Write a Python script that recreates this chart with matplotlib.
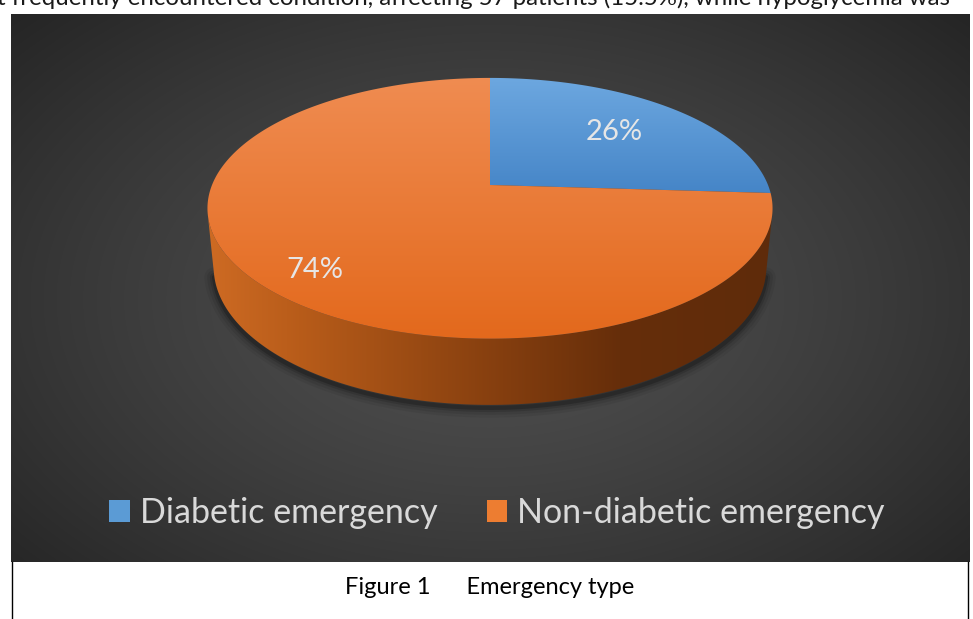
import numpy as np
import matplotlib
matplotlib.use('Agg')
import matplotlib.pyplot as plt
from matplotlib.patches import Polygon, Patch

# ---------------- data ----------------
categories = ['Diabetic emergency', 'Non-diabetic emergency']
values = [26, 74]
pct_labels = ['26%', '74%']
colors = ['#5B9BD5', '#ED7D31']
caption = 'Figure 1      Emergency type'
top_text = 't frequently encountered condition, affecting 57 patients (15.5%), while hypoglycemia was'

FONT = ['Lato', 'DejaVu Sans']
plt.rcParams['font.family'] = FONT

W, H = 973, 619
fig = plt.figure(figsize=(W / 100, H / 100), dpi=100)
fig.patch.set_facecolor('white')
ax = fig.add_axes([0, 0, 1, 1])
ax.set_xlim(0, W)
ax.set_ylim(H, 0)
ax.axis('off')

# ---------------- background panel (radial gradient) ----------------
px0, px1, py0, py1 = 11, 970, 14, 562
yy, xx = np.mgrid[py0:py1, px0:px1] + 0.5
r = np.sqrt(((xx - 490) / 520) ** 2 + ((yy - 300) / 330) ** 2)
t = np.clip(r / 1.26, 0, 1) ** 1.3
g = 0.315 - (0.315 - 0.145) * t
bg = np.dstack([g, g, g])
ax.imshow(bg, extent=(px0, px1, py1, py0), origin='upper', interpolation='bilinear', zorder=0, aspect='auto')

# ---------------- 3D pie projection ----------------
theta = np.radians(27)
s_, c_ = np.sin(theta), np.cos(theta)
Dd = 5.6 * c_
K = 278 * Dd
CX, CY = 490, 185
h = 0.239


def proj(phi, z=0.0, rad=1.0):
    X, Y = rad * np.cos(phi), rad * np.sin(phi)
    depth = Dd + Y * c_ - z * s_
    up = Y * s_ + z * c_
    return CX + K * X / depth, CY - K * up / depth


fracs = np.array(values, dtype=float) / np.sum(values)
cum = np.concatenate([[0], np.cumsum(fracs)])
# clockwise from 12 o'clock
starts = np.pi / 2 - 2 * np.pi * cum[:-1]
ends = np.pi / 2 - 2 * np.pi * cum[1:]

# visible side range (silhouette)
a_sil = np.arcsin(1 / (Dd * c_))
vis0, vis1 = np.pi + a_sil, 2 * np.pi - a_sil


def gradient_fill(poly_xy, cols_fn, z):
    xs, ys = poly_xy[:, 0], poly_xy[:, 1]
    x0, x1 = xs.min() - 2, xs.max() + 2
    y0, y1 = ys.min() - 2, ys.max() + 2
    nx, ny = int(x1 - x0) + 1, int(y1 - y0) + 1
    gx, gy = np.meshgrid(np.linspace(x0, x1, nx), np.linspace(y0, y1, ny))
    img = cols_fn(gx, gy)
    im = ax.imshow(img, extent=(x0, x1, y1, y0), origin='upper', interpolation='bilinear', zorder=z, aspect='auto')
    patch = Polygon(poly_xy, closed=True, facecolor='none', edgecolor='none', transform=ax.transData)
    ax.add_patch(patch)
    im.set_clip_path(patch)


def interp_cols(v, stops, cols):
    cols = np.array(cols)
    return np.dstack([np.interp(v, stops, cols[:, k]) for k in range(3)])


# shadow under the pie
phis_b = np.linspace(vis0, vis1, 200)
bx, by = proj(phis_b, -h)
for lw, al in [(14, 0.06), (10, 0.08), (6, 0.12), (3, 0.2)]:
    ax.plot(bx, by + 3, color='black', lw=lw, alpha=al, solid_capstyle='round', zorder=1)

# side walls
side_stops = [205, 300, 490, 620, 780]
side_cols = [(0.81, 0.42, 0.14), (0.72, 0.36, 0.10), (0.53, 0.25, 0.06), (0.40, 0.18, 0.04), (0.37, 0.17, 0.04)]
blue_side = [(0.30, 0.50, 0.72), (0.26, 0.44, 0.64), (0.20, 0.34, 0.50), (0.15, 0.26, 0.40), (0.14, 0.24, 0.38)]
for i in range(len(values)):
    lo, hi = ends[i], starts[i]
    for shift in (-2 * np.pi, 0, 2 * np.pi):
        a0 = max(lo + shift, vis0)
        a1 = min(hi + shift, vis1)
        if a1 > a0:
            ph = np.linspace(a0, a1, 200)
            tx, ty = proj(ph, 0)
            bx2, by2 = proj(ph[::-1], -h)
            poly = np.column_stack([np.concatenate([tx, bx2]), np.concatenate([ty, by2])])
            sc = blue_side if i == 0 else side_cols
            gradient_fill(poly, lambda gx, gy, sc=sc: interp_cols(gx, side_stops, sc), 2)

# top face wedges
top_grad = {
    0: ([75, 195], [(0.43, 0.66, 0.88), (0.27, 0.52, 0.78)]),
    1: ([75, 340], [(0.94, 0.55, 0.32), (0.89, 0.41, 0.11)]),
}
for i in range(len(values)):
    ph = np.linspace(starts[i], ends[i], 300)
    ax_, ay_ = proj(ph, 0)
    poly = np.column_stack([np.concatenate([[CX], ax_]), np.concatenate([[CY], ay_])])
    stops, cols = top_grad[i]
    gradient_fill(poly, lambda gx, gy, st=stops, co=cols: interp_cols(gy, st, co), 3)

# data labels
label_r = [0.66, 0.78]
label_dy = [0, 11]
for i in range(len(values)):
    mid = (starts[i] + ends[i]) / 2
    lx, ly = proj(mid, 0, label_r[i])
    ax.text(lx, ly + label_dy[i], pct_labels[i], color='#e6e6e6', fontsize=21,
            ha='center', va='center', zorder=5)

# legend
handles = [Patch(facecolor=colors[i], edgecolor='none') for i in range(len(values))]
leg = fig.legend(handles, categories, loc='center', bbox_to_anchor=(497 / W, 1 - 513 / H), ncol=2,
                 frameon=False, fontsize=24.5, labelcolor='#d9d9d9', handlelength=0.6, handleheight=0.6,
                 handletextpad=0.3, columnspacing=1.45)

# caption box
ax.plot([12, 12], [562, 619], color='black', lw=1, zorder=6)
ax.plot([967.5, 967.5], [562, 619], color='black', lw=1, zorder=6)
ax.text(490, 588, caption, color='black', fontsize=17, ha='center', va='center', zorder=6)

# cropped body text at very top
ax.text(-3, 5, top_text, color='#1a1a1a', fontsize=17.3, ha='left', va='baseline', zorder=6)

fig.savefig('out.png', dpi=100, facecolor='white')
